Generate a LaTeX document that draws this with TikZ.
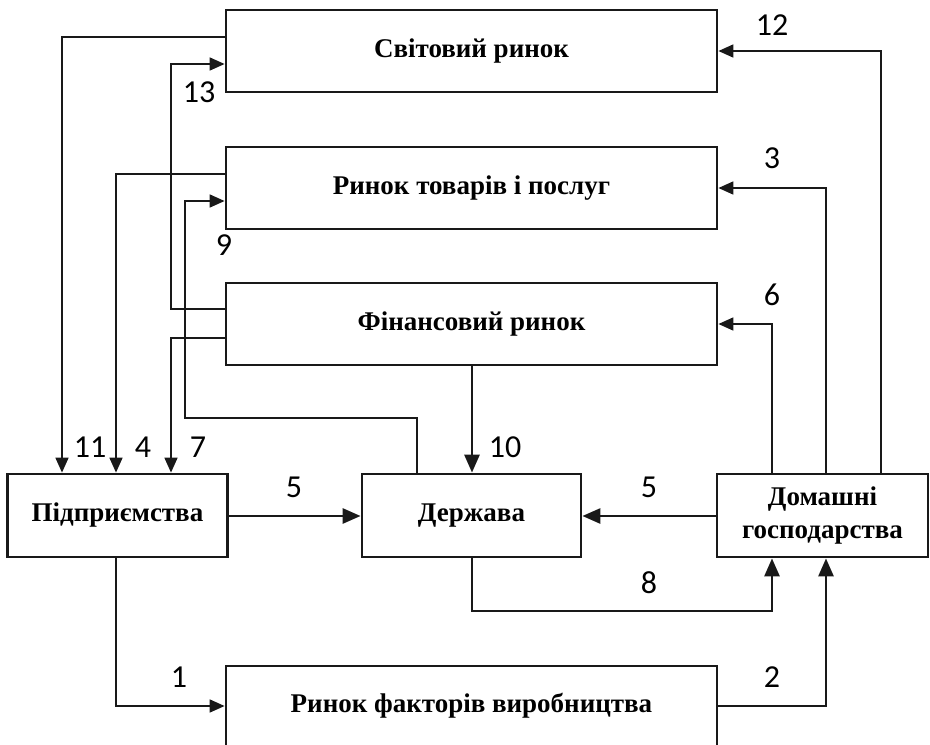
\documentclass[tikz,border=0pt]{standalone}
\usepackage{fontspec}
\setmainfont{Liberation Serif}
\newfontfamily\labfont{Carlito}
\usetikzlibrary{arrows.meta}
\begin{document}
\begin{tikzpicture}[x=1pt,y=-1pt,
  box/.style={draw=black!90,line width=2.8pt,rectangle,inner sep=0pt,align=center,
    font=\fontsize{27}{33}\selectfont\bfseries},
  conn/.style={draw=black!90,line width=1.7pt,-{Triangle[length=15pt,width=13pt]}},
  plain/.style={draw=black!90,line width=1.7pt},
  thickconn/.style={draw=black!90,line width=2.8pt,-{Triangle[length=18pt,width=15pt]}},
  num/.style={font=\fontsize{32}{32}\labfont,inner sep=0pt}]
\useasboundingbox (0,0) rectangle (930,745);
% boxes
\node[box,minimum width=491pt,minimum height=82pt] (sw) at (471.5,51) {Світовий ринок};
\node[box,minimum width=491pt,minimum height=82pt] (rt) at (471.5,188) {Ринок товарів і послуг};
\node[box,minimum width=491pt,minimum height=82pt] (fr) at (471.5,324) {Фінансовий ринок};
\node[box,minimum width=220pt,minimum height=83pt] (pid) at (117.5,515.5) {Підприємства};
\node[box,minimum width=219pt,minimum height=83pt] (der) at (471.5,515.5) {Держава};
\node[box,minimum width=211pt,minimum height=83pt] (dom) at (822.5,515.5) {Домашні\\господарства};
\node[box,minimum width=491pt,minimum height=80pt] (rf) at (471.5,706) {Ринок факторів виробництва};
% connectors
\draw[conn] (sw.west |- 0,37) -| (pid.north -| 62,0);
\draw[conn] (fr.west |- 0,309) -| (171,64) -- (sw.west |- 0,64);
\draw[conn] (rt.west |- 0,174) -| (pid.north -| 116,0);
\draw[conn] (fr.west |- 0,338) -| (pid.north -| 171,0);
\draw[conn] (der.north -| 417,0) |- (185,418) |- (rt.west |- 0,201);
\draw[thickconn] (fr.south -| 472,0) -- (der.north -| 472,0);
\draw[thickconn] (pid.east |- 0,516) -- (der.west |- 0,516);
\draw[thickconn] (dom.west |- 0,516) -- (der.east |- 0,516);
\draw[conn] (dom.north -| 772,0) |- (fr.east |- 0,324);
\draw[conn] (dom.north -| 826,0) |- (rt.east |- 0,188);
\draw[conn] (dom.north -| 881,0) |- (sw.east |- 0,51);
\draw[plain] (der.south -| 472,0) |- (772,611);
\draw[thickconn] (772,611.8) -- (dom.south -| 772,0);
\draw[conn] (pid.south -| 116,0) |- (rf.west |- 0,706);
\draw[plain] (rf.east |- 0,706) -| (826,680);
\draw[thickconn] (826,706.8) -- (dom.south -| 826,0);
% labels
\node[num] (l12) at (772,25) {12};
\node[num] (l13) at (199,92) {13};
\node[num] (l3) at (772,158) {3};
\node[num] (l9) at (224,245) {9};
\node[num] (l6) at (772,295) {6};
\node[num] (l11) at (90,447) {11};
\node[num] (l4) at (143,447) {4};
\node[num] (l7) at (198,447) {7};
\node[num] (l10) at (505,447) {10};
\node[num] (l5a) at (294,487) {5};
\node[num] (l5b) at (649,487) {5};
\node[num] (l8) at (649,583) {8};
\node[num] (l1) at (179,677) {1};
\node[num] (l2) at (772,677) {2};
\end{tikzpicture}
\end{document}
